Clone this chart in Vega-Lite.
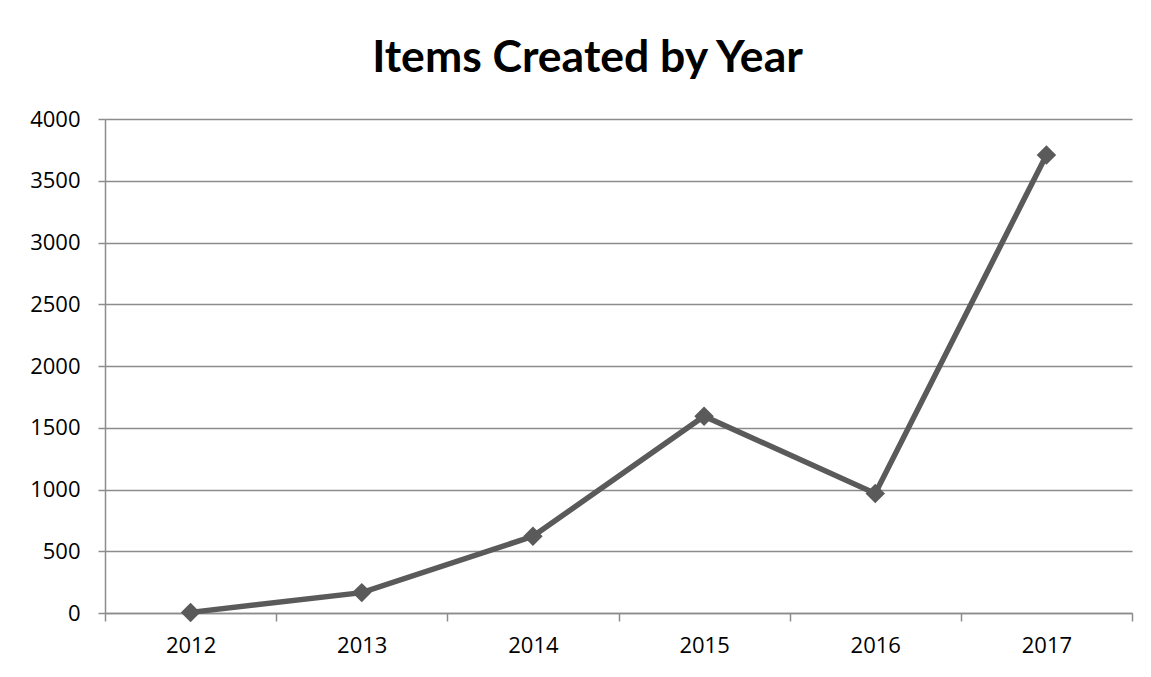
{
  "$schema": "https://vega.github.io/schema/vega-lite/v6.json",
  "autosize": "none",
  "width": 1027,
  "height": 494,
  "padding": {"left": 105, "top": 119, "right": 19, "bottom": 64},
  "background": "white",
  "title": {
    "text": "Items Created by Year",
    "font": "Lato",
    "fontSize": 44.5,
    "fontWeight": "bold",
    "color": "#000000",
    "anchor": "middle",
    "baseline": "alphabetic",
    "offset": -8,
    "dx": -31
  },
  "data": {
    "values": [
      {"year": "2012", "items": 5},
      {"year": "2013", "items": 165},
      {"year": "2014", "items": 621},
      {"year": "2015", "items": 1594},
      {"year": "2016", "items": 968},
      {"year": "2017", "items": 3708}
    ]
  },
  "encoding": {
    "x": {
      "field": "year",
      "type": "ordinal",
      "scale": {"type": "band", "paddingInner": 0, "paddingOuter": 0},
      "axis": {
        "title": null,
        "labelAngle": 0,
        "tickBand": "extent",
        "grid": false,
        "domainColor": "#8c8c8c",
        "domainWidth": 1.5,
        "tickColor": "#8c8c8c",
        "tickWidth": 1.5,
        "tickSize": 8,
        "labelPadding": 14,
        "labelFont": "Open Sans",
        "labelFontSize": 22,
        "labelColor": "#000000"
      }
    },
    "y": {
      "field": "items",
      "type": "quantitative",
      "scale": {"domain": [0, 4000], "nice": false, "zero": true},
      "axis": {
        "title": null,
        "format": "d",
        "values": [0, 500, 1000, 1500, 2000, 2500, 3000, 3500, 4000],
        "grid": true,
        "gridColor": "#8c8c8c",
        "gridWidth": 1.5,
        "gridOpacity": 1,
        "domainColor": "#8c8c8c",
        "domainWidth": 1.5,
        "tickColor": "#8c8c8c",
        "tickWidth": 1.5,
        "tickSize": 7,
        "labelPadding": 18,
        "labelFont": "Open Sans",
        "labelFontSize": 22,
        "labelColor": "#000000"
      }
    }
  },
  "layer": [
    {"mark": {"type": "line", "color": "#5a5a5a", "strokeWidth": 5.5}},
    {"mark": {"type": "point", "shape": "diamond", "filled": true, "size": 380, "color": "#5a5a5a", "opacity": 1}}
  ],
  "config": {"view": {"stroke": null}}
}
